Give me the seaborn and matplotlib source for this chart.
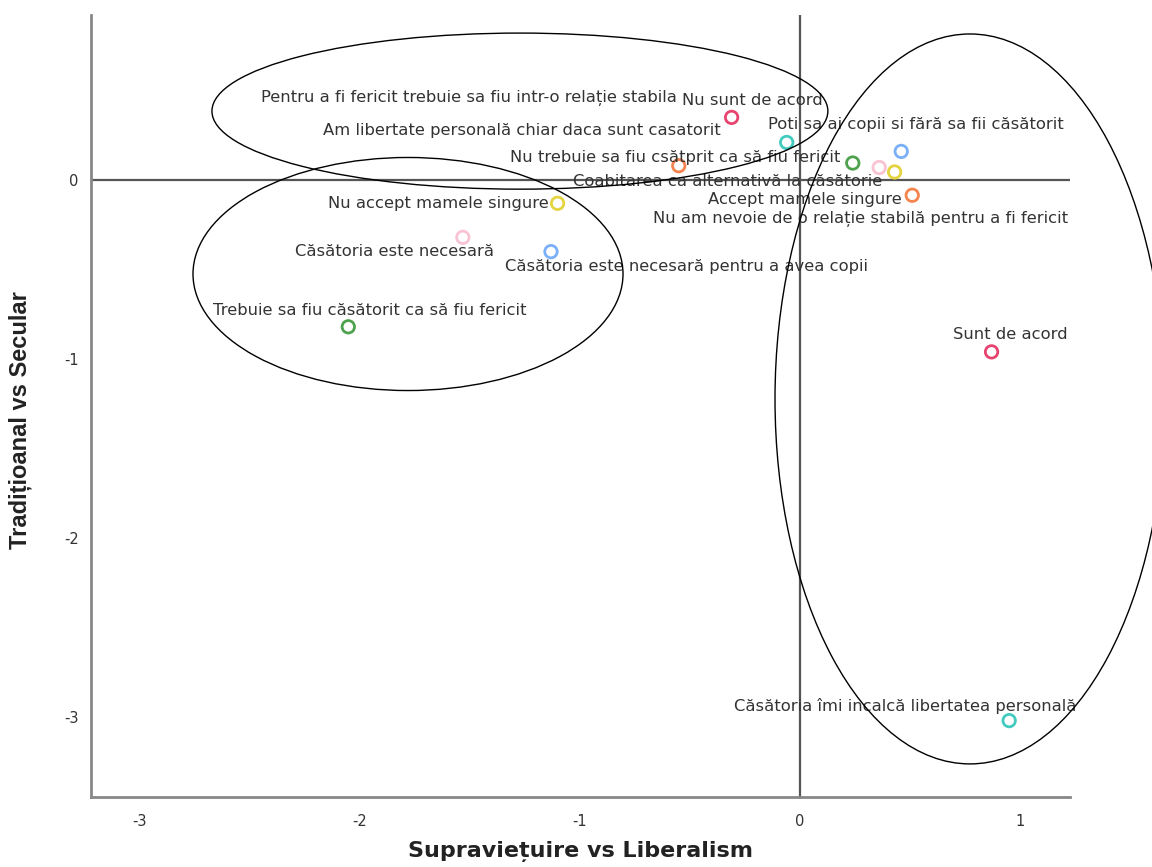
import numpy as np
import pandas as pd
import seaborn as sns
import matplotlib.pyplot as plt
from matplotlib.patches import Ellipse

# Data
labels = [
    'Nu sunt de acord',
    'Am libertate personală chiar daca sunt casatorit',
    'Pentru a fi fericit trebuie sa fiu intr-o relație stabila',
    'Nu trebuie sa fiu csătprit ca să fiu fericit',
    'Coabitarea ca alternativă la căsătorie',
    'Poti sa ai copii si fără sa fii căsătorit',
    'Accept mamele singure',
    'Nu am nevoie de o relație stabilă pentru a fi fericit',
    'Nu accept mamele singure',
    'Căsătoria este necesară',
    'Căsătoria este necesară pentru a avea copii',
    'Trebuie sa fiu căsătorit ca să fiu fericit',
    'Sunt de acord',
    'Căsătoria îmi incalcă libertatea personală',
]
liberalism = [-0.31, -0.06, -0.55, 0.24, 0.36, 0.46, 0.43, 0.51,
              -1.10, -1.53, -1.13, -2.05, 0.87, 0.95]
secular = [0.35, 0.21, 0.08, 0.095, 0.07, 0.16, 0.045, -0.085,
           -0.13, -0.32, -0.40, -0.82, -0.96, -3.02]
item = ['acord', 'libertate', 'relatie', 'fericit', 'casatorie', 'copii', 'mame', 'relatie',
        'mame', 'casatorie', 'copii', 'fericit', 'acord', 'libertate']

palette = {
    'acord': '#e8446f',
    'libertate': '#43cbbf',
    'relatie': '#f5844f',
    'fericit': '#4ea24e',
    'casatorie': '#f9c3d3',
    'copii': '#7ab0f7',
    'mame': '#e3d440',
}

# label offsets in pixels (layout only)
label_offsets = [(21, 17), (-265, 12), (-210, 68), (-178, 6), (-152, -14), (15, 27),
                 (-90, -28), (-52, -24), (-119, 0), (-68, -14), (136, -15), (21, 16),
                 (19, 17), (-104, 15)]

# ellipses: (center x, center y, width, height) in data units
ellipses = [(-1.271, 0.385, 2.796, 0.872),
            (-1.779, -0.525, 1.952, 1.302),
            (0.772, -1.223, 1.770, 4.078)]

df = pd.DataFrame({'label': labels, 'x': liberalism, 'y': secular, 'item': item})

sns.set_style('white')
plt.rcParams['font.family'] = ['DejaVu Sans']
plt.rcParams['axes.unicode_minus'] = False

fig = plt.figure(figsize=(11.52, 8.67), dpi=100)
ax = fig.add_axes([0.079, 0.0807, 0.8498, 0.902])

ax.axhline(0, color='#555555', linewidth=1.6, zorder=1)
ax.axvline(0, color='#555555', linewidth=1.6, zorder=1)

sns.scatterplot(data=df, x='x', y='y', hue='item', palette=palette, s=80,
                legend=False, ax=ax, zorder=3)
coll = ax.collections[-1]
fc = coll.get_facecolors()
coll.set_edgecolors(fc)
coll.set_facecolors('none')
coll.set_linewidth(2)

for i, row in df.iterrows():
    ax.annotate(row['label'], (row['x'], row['y']), xytext=label_offsets[i],
                textcoords='offset pixels', ha='center', va='center',
                fontsize=11.8, color='#333333', zorder=4)

for cx, cy, w, h in ellipses:
    ax.add_patch(Ellipse((cx, cy), w, h, fill=False, edgecolor='black',
                         linewidth=1.0, clip_on=False, zorder=5))

ax.set_xlim(-3.218, 1.226)
ax.set_ylim(-3.447, 0.922)
ax.set_xticks([-3, -2, -1, 0, 1])
ax.set_yticks([-3, -2, -1, 0])
ax.tick_params(length=0, labelsize=10.5, labelcolor='#333333')
ax.tick_params(axis='x', pad=12)
ax.tick_params(axis='y', pad=9)

for side in ['top', 'right']:
    ax.spines[side].set_visible(False)
for side in ['left', 'bottom']:
    ax.spines[side].set_color('#888888')
    ax.spines[side].set_linewidth(2)

ax.set_xlabel('Supraviețuire vs Liberalism', fontsize=16, fontweight='bold', color='#222222')
ax.set_ylabel('Tradițioanal vs Secular', fontsize=17, fontweight='bold', color='#222222',
              family=['Liberation Sans', 'DejaVu Sans'])
ax.xaxis.set_label_coords(0.5, -0.056)
ax.yaxis.set_label_coords(-0.060, 0.482)

fig.savefig('out.png', dpi=100)
